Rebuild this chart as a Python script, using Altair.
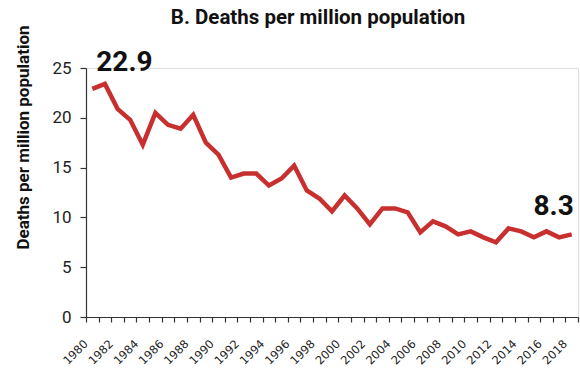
import altair as alt
import pandas as pd

# Annual deaths per million population, 1980-2018
years = list(range(1980, 2019))
deaths_per_million = [
    22.9, 23.4, 20.9, 19.8, 17.3, 20.5, 19.3, 18.9, 20.3, 17.5,
    16.3, 14.0, 14.4, 14.4, 13.2, 13.9, 15.2, 12.7, 11.9, 10.6,
    12.2, 10.9, 9.3, 10.9, 10.9, 10.5, 8.5, 9.6, 9.1, 8.3,
    8.6, 8.0, 7.5, 8.9, 8.6, 8.0, 8.6, 8.0, 8.3,
]
y_ticks = [0, 5, 10, 15, 20, 25]

df = pd.DataFrame({"year": years, "value": deaths_per_million})
# tick marks sit on the boundaries between yearly categories;
# every other boundary carries the label of the year that follows it
edges = [y - 0.5 for y in years] + [years[-1] + 0.5]

W, H = 492, 249
RED = "#c8302f"
AXIS = "#333333"

x_scale = alt.Scale(domain=[years[0] - 0.5, years[-1] + 0.5], nice=False, zero=False)
y_scale = alt.Scale(domain=[0, 25], nice=False)

x_enc = alt.X(
    "year:Q",
    scale=x_scale,
    axis=alt.Axis(
        values=edges,
        labelExpr="(datum.value + 0.5) % 2 == 0 && datum.value < 2018 ? format(datum.value + 0.5, 'd') : ''",
        title=None,
    ),
)
y_enc = alt.Y(
    "value:Q",
    scale=y_scale,
    axis=alt.Axis(
        values=y_ticks,
        title="Deaths per million population",
        titleX=-63,
        titleY=69,
    ),
)

line = alt.Chart(df).mark_line(color=RED, strokeWidth=4.5, strokeJoin="miter").encode(
    x=x_enc, y=y_enc
)

first_label = alt.Chart(df).transform_filter(
    alt.datum.year == years[0]
).mark_text(
    align="left", baseline="alphabetic", dx=4, dy=-18,
    font="Roboto", fontSize=28, fontWeight="bold", color="#111111",
).encode(
    x=x_enc,
    y=y_enc,
    text=alt.Text("value:Q", format=".1f"),
)

last_label = alt.Chart(df).transform_filter(
    alt.datum.year == years[-1]
).mark_text(
    align="right", baseline="alphabetic", dx=2, dy=-19,
    font="Roboto", fontSize=28, fontWeight="bold", color="#111111",
).encode(
    x=x_enc,
    y=y_enc,
    text=alt.Text("value:Q", format=".1f"),
)

chart = alt.layer(line, first_label, last_label).properties(
    width=W,
    height=H,
    autosize=alt.AutoSizeParams(type="none"),
    padding={"left": 86, "top": 68, "right": 2, "bottom": 53},
    title=alt.TitleParams(
        "B. Deaths per million population",
        font="Roboto",
        fontSize=20.5,
        fontWeight="bold",
        color="#111111",
        anchor="middle",
        baseline="alphabetic",
        offset=0,
        dx=-14,
        dy=20,
    ),
).configure_view(
    stroke=None
).configure(
    background="white"
).configure_axis(
    grid=False,
    domainColor=AXIS,
    domainWidth=1.2,
    tickColor=AXIS,
    tickWidth=1.2,
).configure_axisX(
    labelAngle=315,
    labelAlign="right",
    labelBaseline="middle",
    labelPadding=20,
    labelFont="DejaVu Sans",
    labelFontSize=11.5,
    labelColor="#222222",
    labelOverlap=False,
    labelBound=False,
    tickSize=5,
) .configure_axisY(
    labelFont="Roboto",
    labelFontSize=17,
    labelColor="#222222",
    labelPadding=9,
    tickSize=6,
    titleFont="Roboto",
    titleFontSize=17,
    titleFontWeight="bold",
    titleColor="#111111",
    titleAlign="center",
    titleBaseline="middle",
)

chart.save("out.html", embed_options={"renderer": "svg", "actions": False})
